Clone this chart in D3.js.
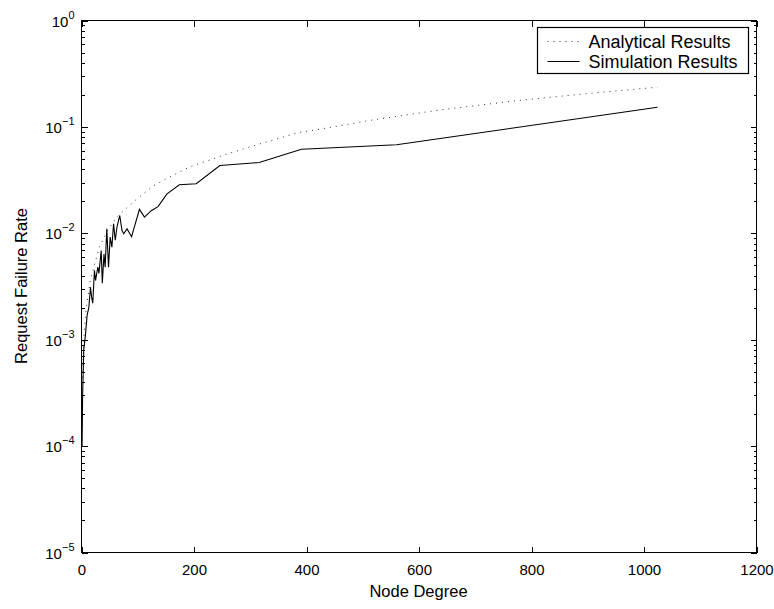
<!DOCTYPE html>
<html>
<head>
<meta charset="utf-8">
<script src="https://cdn.jsdelivr.net/npm/d3@7"></script>
<style>
  body { margin: 0; background: #fff; }
  svg { display: block; font-family: "Liberation Sans", Arial, Helvetica, sans-serif; }
</style>
</head>
<body>
<div id="chart"></div>
<script>
// analytical curve (dotted)
const anaX = [1, 2, 4, 8, 16, 32, 48, 64, 96, 128, 160, 192, 256, 320, 384, 448, 512, 640, 768, 896, 1024];
const anaY = [0.00012, 0.00045, 0.001, 0.0019, 0.0037, 0.0075, 0.011, 0.0145, 0.0205, 0.028, 0.0345, 0.042,
              0.055, 0.07, 0.088, 0.1, 0.115, 0.145, 0.175, 0.205, 0.236];

// simulation curve (solid)
const simX = [1, 2, 4, 7, 10, 13, 16, 18, 20, 23, 25, 29, 31, 35, 37, 40, 42, 45, 48, 51, 54, 57, 60, 63,
              68, 72, 75, 81, 89, 103, 112, 124, 136, 152, 174, 204, 246, 316, 391, 560, 1024];
const simY = [0.0001, 0.0003, 0.0008, 0.0011, 0.0017, 0.002, 0.0031, 0.0025, 0.0022, 0.0045, 0.0036, 0.0048,
              0.0042, 0.0069, 0.0034, 0.0064, 0.0048, 0.011, 0.0048, 0.0092, 0.0074, 0.0123, 0.0086, 0.0114,
              0.0147, 0.0106, 0.0099, 0.011, 0.0093, 0.0168, 0.0142, 0.0163, 0.0178, 0.0235, 0.0286, 0.0292,
              0.0434, 0.0463, 0.0617, 0.0679, 0.153];

const xTicks = [0, 200, 400, 600, 800, 1000, 1200];
const yExps = [0, -1, -2, -3, -4, -5];
const seriesNames = ["Analytical Results", "Simulation Results"];

const W = 774, H = 609;
const margin = { top: 20, right: 18, bottom: 57, left: 81 };
const width = W - margin.left - margin.right;
const height = H - margin.top - margin.bottom;

const svg = d3.select("#chart").append("svg")
    .attr("width", W)
    .attr("height", H);

const g = svg.append("g")
    .attr("transform", `translate(${margin.left + 0.5},${margin.top + 0.5})`);

const x = d3.scaleLinear().domain([0, 1200]).range([0, width]);
const y = d3.scaleLog().domain([1e-5, 1]).range([height, 0]);

const majorY = yExps.map(e => Math.pow(10, e));
const minorY = [];
yExps.slice(1).forEach(e => {
    for (let k = 2; k <= 9; k++) minorY.push(k * Math.pow(10, e));
});

// axes, ticks pointing inward
function styleAxis(sel) {
    sel.select(".domain").remove();
    sel.selectAll("line").attr("stroke", "#000").attr("shape-rendering", "crispEdges");
}

g.append("g").attr("transform", `translate(0,${height})`)
    .call(d3.axisBottom(x).tickValues(xTicks).tickFormat(d3.format("d"))
        .tickSizeInner(-6).tickSizeOuter(0).tickPadding(12))
    .call(styleAxis)
    .call(a => a.selectAll("text").attr("font-size", 15).attr("font-family", "inherit").attr("fill", "#000"));

g.append("g")
    .call(d3.axisTop(x).tickValues(xTicks).tickSizeInner(-6).tickSizeOuter(0).tickFormat(""))
    .call(styleAxis);

g.append("g")
    .call(d3.axisLeft(y).tickValues(majorY).tickSizeInner(-6).tickSizeOuter(0).tickFormat(""))
    .call(styleAxis);
g.append("g")
    .call(d3.axisLeft(y).tickValues(minorY).tickSizeInner(-3).tickSizeOuter(0).tickFormat(""))
    .call(styleAxis);
g.append("g").attr("transform", `translate(${width},0)`)
    .call(d3.axisRight(y).tickValues(majorY).tickSizeInner(-6).tickSizeOuter(0).tickFormat(""))
    .call(styleAxis);
g.append("g").attr("transform", `translate(${width},0)`)
    .call(d3.axisRight(y).tickValues(minorY).tickSizeInner(-3).tickSizeOuter(0).tickFormat(""))
    .call(styleAxis);

// y tick labels 10^n
const yl = g.selectAll(".ylab")
    .data(yExps)
    .enter()
    .append("text")
    .attr("class", "ylab")
    .attr("x", -7)
    .attr("y", d => y(Math.pow(10, d)) + 6)
    .attr("text-anchor", "end")
    .attr("fill", "#000");
yl.append("tspan").attr("font-size", 15).text("10");
yl.append("tspan").attr("font-size", 11).attr("dy", -8).text(d => d === 0 ? "0" : "\u2212" + Math.abs(d));

// frame
g.append("rect")
    .attr("width", width)
    .attr("height", height)
    .attr("fill", "none")
    .attr("stroke", "#000")
    .attr("stroke-width", 1.2)
    .attr("shape-rendering", "crispEdges");

// lines
const anaData = anaX.map((d, i) => [d, anaY[i]]);
const simData = simX.map((d, i) => [d, simY[i]]);
const line = d3.line().x(d => x(d[0])).y(d => y(d[1]));

g.append("path")
    .datum(anaData)
    .attr("d", line)
    .attr("fill", "none")
    .attr("stroke", "#333")
    .attr("stroke-width", 1)
    .attr("stroke-dasharray", "1,5");

g.append("path")
    .datum(simData)
    .attr("d", line)
    .attr("fill", "none")
    .attr("stroke", "#000")
    .attr("stroke-width", 1.1);

// axis titles
svg.append("text")
    .attr("x", margin.left + width / 2)
    .attr("y", 597)
    .attr("text-anchor", "middle")
    .attr("font-size", 16.5)
    .text("Node Degree");

svg.append("text")
    .attr("transform", `translate(27,${margin.top + height / 2}) rotate(-90)`)
    .attr("text-anchor", "middle")
    .attr("font-size", 16.5)
    .text("Request Failure Rate");

// legend
const legend = svg.append("g").attr("transform", "translate(537.5,27.5)");
legend.append("rect")
    .attr("width", 211)
    .attr("height", 46)
    .attr("fill", "#fff")
    .attr("stroke", "#000")
    .attr("stroke-width", 1.2);

const items = legend.selectAll(".item")
    .data(seriesNames)
    .enter()
    .append("g")
    .attr("transform", (d, i) => `translate(0,${14 + i * 20})`);

items.append("line")
    .attr("x1", 10).attr("x2", 42)
    .attr("stroke", (d, i) => i === 0 ? "#333" : "#000")
    .attr("stroke-width", 1)
    .attr("stroke-dasharray", (d, i) => i === 0 ? "1,5" : null);

items.append("text")
    .attr("x", 51)
    .attr("y", 6)
    .attr("font-size", 18)
    .text(d => d);
</script>
</body>
</html>
